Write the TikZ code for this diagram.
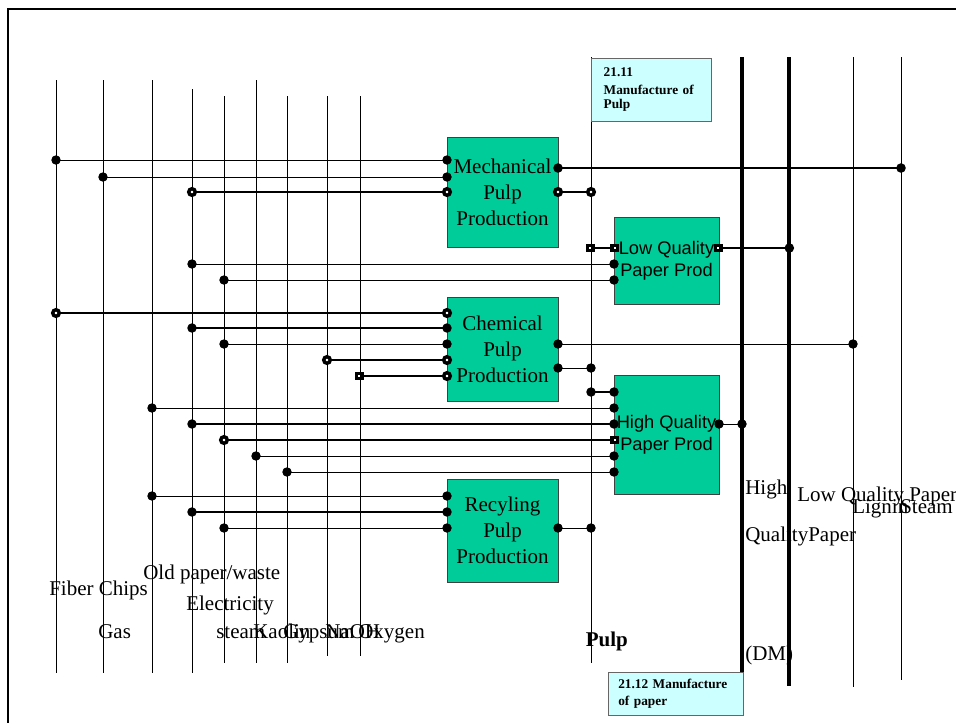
\documentclass[tikz,border=0pt]{standalone}
\usepackage{fontspec}
\setmainfont{Liberation Serif}
\newfontfamily\arialfont{Liberation Sans}
\usetikzlibrary{arrows.meta}
\definecolor{procgreen}{RGB}{0,204,153}
\definecolor{notecyan}{RGB}{204,255,255}

\begin{document}
\begin{tikzpicture}[x=0.75pt,y=-0.75pt,
  feed/.style={line width=0.75pt},
  bus/.style={line width=3.2pt},
  proc/.style={draw=black!75,line width=0.75pt,fill=procgreen,inner sep=0pt,outer sep=0pt,
    minimum width=83.25pt,align=center,font=\fontsize{15.75}{19.5}\selectfont},
  paperproc/.style={proc,minimum width=78.75pt,font=\arialfont\fontsize{13.7}{16.5}\selectfont},
  note/.style={draw=black!60,line width=0.75pt,fill=notecyan,outer sep=0pt,align=left,
    font=\bfseries\fontsize{10}{10}\selectfont},
  lbl/.style={inner sep=0pt,anchor=base west,font=\fontsize{15.75}{19.5}\selectfont},
  thinlink/.style={line width=0.75pt,{Circle[length=7pt]}-{Circle[length=7pt]},
    shorten <=-3.5pt,shorten >=-3.5pt},
  midlink/.style={thinlink,line width=1.3pt},
  heavyfill/.style={thinlink,line width=2pt},
  heavylink/.style={line width=2pt,
    {Circle[fill=white,length=7.5pt,line width=2.6pt]}-{Circle[fill=white,length=7.5pt,line width=2.6pt]},
    shorten <=-3.75pt,shorten >=-3.75pt}]
  \useasboundingbox (0,0) rectangle (956,722);
  \clip (0,0) rectangle (956,722);
  \draw[line width=1.3pt] (8,9) rectangle (980,740);

  \foreach \name/\x/\ya/\yb in {fiber/56/80/673, gas/103/80/673, oldpaper/152/80/673,
      elec/192/89/673, steamin/224/96/663, kaolin/256/80/663, gypsum/287/96/663,
      naoh/327/96/656, oxygen/360/96/656, pulp/591/57/663, lignin/853/57/687,
      steamout/901/57/680}
    {\coordinate (\name) at (\x,\ya);
     \draw[feed] (\name) -- (\x,\yb);}
  \coordinate (hqpaper) at (742,57);
  \coordinate (lqpaper) at (789,57);
  \draw[bus] (hqpaper) -- (742,672);
  \draw[bus] (lqpaper) -- (789,686);

  \node[note,minimum width=90pt,minimum height=47.25pt,text width=71pt,inner xsep=9.5pt]
    (pulpnote) at (651,89.5) {21.11\\[3.3pt]Manufacture of\\Pulp};
  \node[note,minimum width=101.25pt,minimum height=32.25pt,text width=85.8pt,inner xsep=7.7pt,
    font=\bfseries\fontsize{10}{12.5}\selectfont]
    (papernote) at (675.5,693.5) {21.12 Manufacture\\of paper};

  \node[proc,minimum height=82.5pt] (mech) at (502.5,192) {Mechanical\\Pulp\\Production};
  \node[proc,minimum height=78pt] (chem) at (502.5,349) {Chemical\\Pulp\\Production};
  \node[proc,minimum height=77.25pt] (recyc) at (502.5,530.5) {Recyling\\Pulp\\Production};
  \node[paperproc,minimum height=65.25pt] (lq) at (666.5,260.5) {Low Quality\\Paper Prod};
  \node[paperproc,minimum height=89.25pt] (hq) at (666.5,434.5) {High Quality\\Paper Prod};

  \draw[thinlink] (fiber |- 0,160) -- (mech.west |- 0,160);
  \draw[thinlink] (gas |- 0,177) -- (mech.west |- 0,177);
  \draw[heavylink] (elec |- 0,192) -- (mech.west |- 0,192);
  \draw[heavyfill] (mech.east |- 0,168) -- (steamout |- 0,168);
  \draw[heavylink] (mech.east |- 0,192) -- (pulp |- 0,192);
  \draw[heavylink,{Square[fill=white,length=6.5pt,line width=2.4pt]}-{Square[fill=white,length=6.5pt,line width=2.4pt]}]
    (pulp |- 0,248) -- (lq.west |- 0,248);
  \draw[heavylink,{Square[fill=white,length=6.5pt,line width=2.4pt]}-{Circle[length=7pt]}]
    (lq.east |- 0,248) -- (lqpaper |- 0,248);
  \draw[thinlink] (elec |- 0,264) -- (lq.west |- 0,264);
  \draw[thinlink] (steamin |- 0,280) -- (lq.west |- 0,280);

  \draw[heavylink] (fiber |- 0,313) -- (chem.west |- 0,313);
  \draw[midlink] (elec |- 0,328) -- (chem.west |- 0,328);
  \draw[thinlink] (steamin |- 0,344) -- (chem.west |- 0,344);
  \draw[heavylink] (naoh |- 0,360) -- (chem.west |- 0,360);
  \draw[heavylink,{Square[fill=white,length=6.5pt,line width=2.4pt]}-{Circle[fill=white,length=7.5pt,line width=2.6pt]}]
    (oxygen |- 0,376) -- (chem.west |- 0,376);
  \draw[thinlink] (chem.east |- 0,344) -- (lignin |- 0,344);
  \draw[thinlink] (chem.east |- 0,368) -- (pulp |- 0,368);

  \draw[midlink] (pulp |- 0,392) -- (hq.west |- 0,392);
  \draw[thinlink] (oldpaper |- 0,408) -- (hq.west |- 0,408);
  \draw[midlink] (elec |- 0,424) -- (hq.west |- 0,424);
  \draw[heavylink,{Circle[fill=white,length=7.5pt,line width=2.6pt]}-{Square[fill=white,length=6.5pt,line width=2.4pt]}]
    (steamin |- 0,440) -- (hq.west |- 0,440);
  \draw[thinlink] (kaolin |- 0,456) -- (hq.west |- 0,456);
  \draw[thinlink] (gypsum |- 0,472) -- (hq.west |- 0,472);
  \draw[thinlink] (hq.east |- 0,424) -- (hqpaper |- 0,424);

  \draw[thinlink] (oldpaper |- 0,496) -- (recyc.west |- 0,496);
  \draw[midlink] (elec |- 0,512) -- (recyc.west |- 0,512);
  \draw[thinlink] (steamin |- 0,528) -- (recyc.west |- 0,528);
  \draw[thinlink] (recyc.east |- 0,528) -- (pulp |- 0,528);

  \node[lbl] (fiberlbl) at (49,595) {Fiber Chips};
  \node[lbl] (gaslbl) at (98,638) {Gas};
  \node[lbl] (oldpaperlbl) at (143,579) {Old paper/waste};
  \node[lbl] (eleclbl) at (186,610) {Electricity};
  \node[lbl] (steaminlbl) at (216,638) {steam};
  \node[lbl] (kaolinlbl) at (253,638) {Kaolin};
  \node[lbl] (gypsumlbl) at (283,638) {Gypsum};
  \node[lbl] (naohlbl) at (325,638) {NaOH};
  \node[lbl] (oxygenlbl) at (358,638) {Oxygen};
  \node[lbl,font=\bfseries\fontsize{15.75}{19.5}\selectfont] (pulplbl) at (585.5,646.5) {Pulp};
  \node[lbl] (hqlblA) at (745,494) {High};
  \node[lbl] (hqlblB) at (745,541.5) {QualityPaper};
  \node[lbl] (hqlblC) at (745,660) {(DM)};
  \node[lbl] (lqlbl) at (797,501.5) {Low Quality Paper};
  \node[lbl] (ligninlbl) at (852,513) {Lignin};
  \node[lbl] (steamoutlbl) at (900,513) {Steam};
\end{tikzpicture}
\end{document}
